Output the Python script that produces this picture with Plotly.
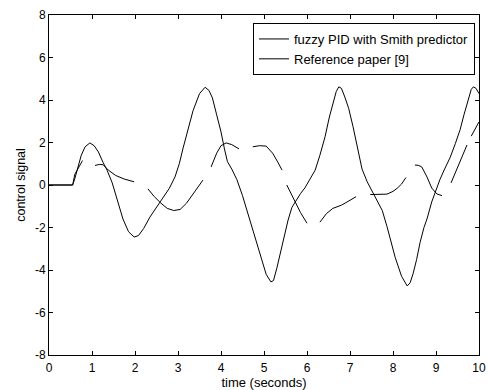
import plotly.graph_objects as go

# fuzzy PID with Smith predictor (solid curve)
t_fuzzy = [0, 0.55, 0.6, 0.67, 0.75, 0.84, 0.95, 1.05, 1.15, 1.26, 1.35, 1.47, 1.58, 1.72, 1.85,
           1.98, 2.08, 2.2, 2.35, 2.5, 2.65, 2.8, 2.93, 3.03, 3.12, 3.25, 3.35, 3.5, 3.63, 3.72,
           3.8, 3.9, 4.0, 4.08, 4.15, 4.25, 4.37, 4.5, 4.63, 4.72, 4.83, 4.95, 5.05, 5.16, 5.22,
           5.3, 5.44, 5.56, 5.65, 5.72, 5.85, 5.95, 6.08, 6.19, 6.3, 6.42, 6.52, 6.6, 6.68, 6.74,
           6.8, 6.88, 6.97, 7.07, 7.19, 7.28, 7.4, 7.53, 7.63, 7.75, 7.86, 8.05, 8.2, 8.33, 8.4,
           8.47, 8.55, 8.63, 8.72, 8.79, 8.9, 9.0, 9.09, 9.2, 9.33, 9.45, 9.56, 9.65, 9.74, 9.82,
           9.87, 9.93, 10.0]
u_fuzzy = [0, 0, 0.3, 0.8, 1.4, 1.8, 1.98, 1.85, 1.55, 1.05, 0.7, 0.1, -0.7, -1.6, -2.2,
           -2.45, -2.38, -2.05, -1.5, -1.05, -0.6, -0.15, 0.38, 1.0, 1.75, 2.8, 3.5, 4.3, 4.6, 4.45,
           4.1, 3.3, 2.5, 1.7, 1.1, 0.75, 0.25, -0.5, -1.4, -1.9, -2.7, -3.6, -4.2, -4.56, -4.5,
           -3.9, -2.6, -1.65, -1.05, -0.8, -0.4, -0.14, 0.3, 0.7, 1.4, 2.27, 3.2, 3.86, 4.4, 4.62,
           4.55, 4.14, 3.6, 2.75, 1.55, 0.75, 0.15, -0.35, -0.7, -1.2, -1.95, -3.4, -4.3, -4.75, -4.6,
           -4.15, -3.5, -2.7, -2.0, -1.6, -0.8, -0.2, 0.25, 0.75, 1.3, 1.95, 2.6, 3.3, 4.0, 4.5,
           4.62, 4.55, 4.3]

# Reference paper [9] (broken curve; None marks missing stretches)
t_ref = [0, 0.55, 0.6, 0.7, 0.78, None,
         1.07, 1.18, 1.26, 1.38, 1.55, 1.75, 1.98, None,
         2.3, 2.45, 2.6, 2.75, 2.9, 3.05, 3.2, 3.4, 3.58, None,
         3.77, 3.9, 4.0, 4.12, 4.25, 4.42, None,
         4.74, 4.9, 5.05, 5.2, 5.32, 5.42, None,
         5.53, 5.7, 5.85, 6.0, None,
         6.3, 6.45, 6.6, 6.8, 7.0, 7.14, None,
         7.47, 7.65, 7.86, 8.0, 8.1, 8.2, 8.3, None,
         8.51, 8.6, 8.67, 8.79, 8.9, 9.02, 9.14, None,
         9.35, 9.51, 9.72, None,
         9.82, 9.9, 10.0]
u_ref = [0, 0, 0.5, 0.9, 1.15, None,
         0.92, 0.97, 0.95, 0.7, 0.45, 0.28, 0.15, None,
         -0.18, -0.55, -0.85, -1.1, -1.2, -1.15, -0.85, -0.3, 0.23, None,
         0.85, 1.5, 1.85, 1.98, 1.9, 1.7, None,
         1.8, 1.85, 1.83, 1.5, 1.08, 0.7, None,
         0.0, -0.7, -1.3, -1.8, None,
         -1.75, -1.35, -1.1, -0.95, -0.72, -0.55, None,
         -0.45, -0.45, -0.43, -0.3, -0.15, 0.05, 0.35, None,
         0.94, 0.92, 0.85, 0.38, -0.14, -0.42, -0.5, None,
         0.1, 0.85, 1.88, None,
         2.3, 2.6, 2.97]

x_ticks = list(range(0, 11))
y_ticks = list(range(-8, 9, 2))

FONT = "Liberation Sans, Arial, sans-serif"

fig = go.Figure()
fig.add_trace(go.Scatter(x=t_fuzzy, y=u_fuzzy, mode="lines", name="fuzzy PID with Smith predictor",
                         line=dict(color="black", width=1)))
fig.add_trace(go.Scatter(x=t_ref, y=u_ref, mode="lines", name="Reference paper [9]",
                         line=dict(color="black", width=1), connectgaps=False))

axis_common = dict(showline=True, linecolor="black", linewidth=1, mirror="ticks",
                   ticks="inside", ticklen=4, tickcolor="black", showgrid=False, zeroline=False,
                   automargin=False,
                   tickfont=dict(family=FONT, size=12, color="black"))

fig.update_xaxes(range=[0, 10], tickvals=x_ticks, ticktext=[str(v) for v in x_ticks],
                 ticklabelstandoff=2,
                 title=dict(text="time (seconds)", font=dict(family=FONT, size=13, color="black"), standoff=3),
                 **axis_common)
fig.update_yaxes(range=[-8, 8], tickvals=y_ticks, ticktext=[str(v) for v in y_ticks],
                 title=dict(text="control signal", font=dict(family=FONT, size=12.5, color="black"), standoff=6),
                 **axis_common)

fig.update_layout(
    width=489, height=390,
    margin=dict(l=49, r=10, t=15, b=35),
    paper_bgcolor="white", plot_bgcolor="white",
    font=dict(family=FONT, size=12, color="black"),
    showlegend=True,
    legend=dict(x=0.9907, y=0.9765, xanchor="right", yanchor="top",
                bgcolor="white", bordercolor="black", borderwidth=1,
                font=dict(family=FONT, size=13, color="black"),
                tracegroupgap=0, itemwidth=30),
)

fig.write_html("out.html")
